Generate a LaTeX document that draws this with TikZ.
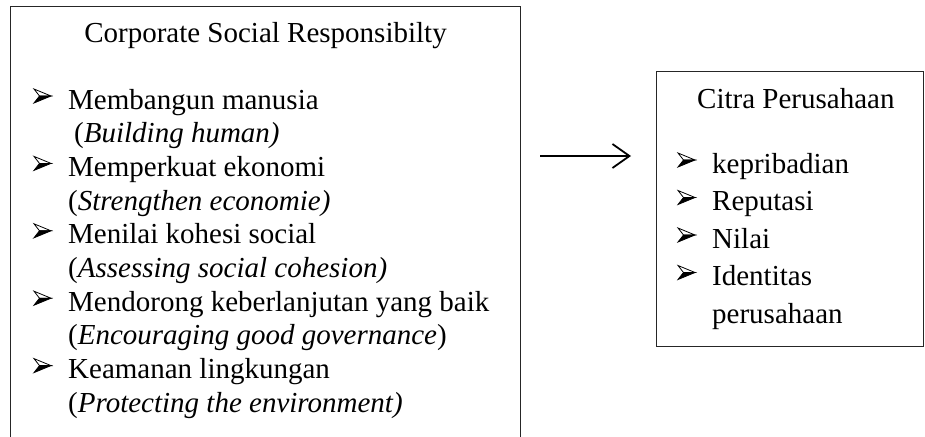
\documentclass[tikz,border=0pt]{standalone}
\usepackage{fontspec}
\setmainfont{Liberation Serif}
\usetikzlibrary{arrows.meta}
\begin{document}
\begin{tikzpicture}[x=1pt,y=-1pt,
  box/.style={draw=black!85, line width=1.4pt, inner sep=0pt, anchor=north west},
  txt/.style={anchor=base west, inner sep=0pt, font=\fontsize{29}{34}\selectfont},
  ttl/.style={anchor=base, inner sep=0pt, font=\fontsize{29}{34}\selectfont},
  abul/.pic={
    \filldraw[fill=white, draw=black, line width=0.8pt, line join=miter] (-8.5,-7) -- (8.5,0) -- (-3,0) -- cycle;
    \filldraw[fill=black, draw=black, line width=0.8pt, line join=miter] (-8.5,7) -- (8.5,0) -- (-3,0) -- cycle;
  },
  arr/.style={-{Straight Barb[length=17pt,width=24pt,line width=1.8pt]}, line width=1.8pt}]
\useasboundingbox (0,0) rectangle (925,436);
\clip (0,0) rectangle (925,436);
% boxes
\node[box, minimum width=510pt, minimum height=460pt] (csr) at (10,6) {};
\node[box, minimum width=267pt, minimum height=275pt] (cp) at (656,71) {};
% left box texts
\node[ttl] (csrT) at (265.5,43) {Corporate Social Responsibilty};
\coordinate (b1) at (42.5,96);
\coordinate (b2) at (42.5,163.4);
\coordinate (b3) at (42.5,230.8);
\coordinate (b4) at (42.5,298.2);
\coordinate (b5) at (42.5,365.6);
\foreach \b in {b1,b2,b3,b4,b5} \pic at (\b) {abul};
\node[txt] (l1) at (68,109) {Membangun manusia};
\node[txt] (l2) at (74,142.7) {(\textit{Building human)}};
\node[txt] (l3) at (68,176.4) {Memperkuat ekonomi};
\node[txt] (l4) at (68,210.1) {(\textit{Strengthen economie)}};
\node[txt] (l5) at (68,243.8) {Menilai kohesi social};
\node[txt] (l6) at (68,277.5) {(\textit{Assessing social cohesion)}};
\node[txt] (l7) at (68,311.2) {Mendorong keberlanjutan yang baik};
\node[txt] (l8) at (68,344.9) {(\textit{Encouraging good governance})};
\node[txt] (l9) at (68,378.6) {Keamanan lingkungan};
\node[txt] (l10) at (68,412.3) {(\textit{Protecting the environment)}};
% right box texts
\node[txt] (cpT) at (697,108) {Citra Perusahaan};
\coordinate (c1) at (686.5,160);
\coordinate (c2) at (686.5,197.5);
\coordinate (c3) at (686.5,235);
\coordinate (c4) at (686.5,272.5);
\foreach \c in {c1,c2,c3,c4} \pic at (\c) {abul};
\node[txt] (r1) at (712,173) {kepribadian};
\node[txt] (r2) at (712,210.5) {Reputasi};
\node[txt] (r3) at (712,248) {Nilai};
\node[txt] (r4) at (712,285.5) {Identitas};
\node[txt] (r5) at (712,323) {perusahaan};
% arrow
\coordinate (as) at (540,156);
\coordinate (ae) at (631,156);
\draw[arr] (as) -- (ae);
\end{tikzpicture}
\end{document}
